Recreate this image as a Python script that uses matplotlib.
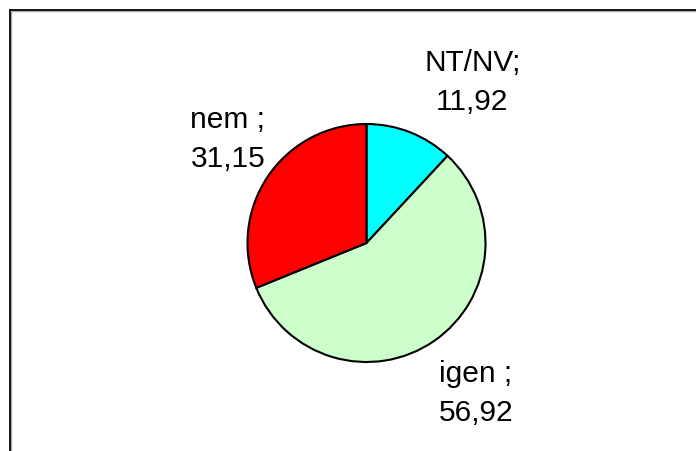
import matplotlib.pyplot as plt
from matplotlib.lines import Line2D

# adatok (sorrend: 12 órától az óramutató járása szerint)
categories = ["NT/NV;", "igen ;", "nem ;"]
values = [11.92, 56.92, 31.15]
value_labels = ["11,92", "56,92", "31,15"]
colors = ["#00FFFF", "#CCFFCC", "#FF0000"]

# feliratok helye a kör sugarában mérve
label_pos = [(0.89, 1.36), (0.92, -1.26), (-1.165, 0.88)]

plt.rcParams['font.family'] = ['Liberation Sans', 'DejaVu Sans']

W, H = 696, 452
fig = plt.figure(figsize=(W / 100, H / 100), dpi=100)

# keret (a jobb és alsó oldal kilóg a képből), szürke árnyékkal
def frame_line(xs, ys, color, lw):
    fig.add_artist(Line2D(xs, ys, color=color, lw=lw, transform=fig.transFigure))

frame_line([11 / W, 11 / W], [1 - 12 / H, -0.1], "#aaaaaa", 1.0)
frame_line([11 / W, 1.1], [1 - 12 / H, 1 - 12 / H], "#aaaaaa", 1.0)
frame_line([10 / W, 10 / W], [1 - 11 / H, -0.1], "black", 1.3)
frame_line([10 / W, 1.1], [1 - 11 / H, 1 - 11 / H], "black", 1.3)

cx, cy, r = 366.5, 244, 119
ax = fig.add_axes([(cx - r) / W, (H - cy - r) / H, 2 * r / W, 2 * r / H])
ax.pie(values, colors=colors, startangle=90, counterclock=False, radius=1,
       wedgeprops=dict(edgecolor="black", linewidth=1.5))
ax.set_xlim(-1, 1)
ax.set_ylim(-1, 1)
ax.axis('off')

for cat, vl, (x, y) in zip(categories, value_labels, label_pos):
    ax.text(x, y, cat + "\n" + vl, ha="center", va="center", multialignment="center",
            fontsize=21.5, linespacing=1.5, clip_on=False)

fig.savefig("out.png", dpi=100)
